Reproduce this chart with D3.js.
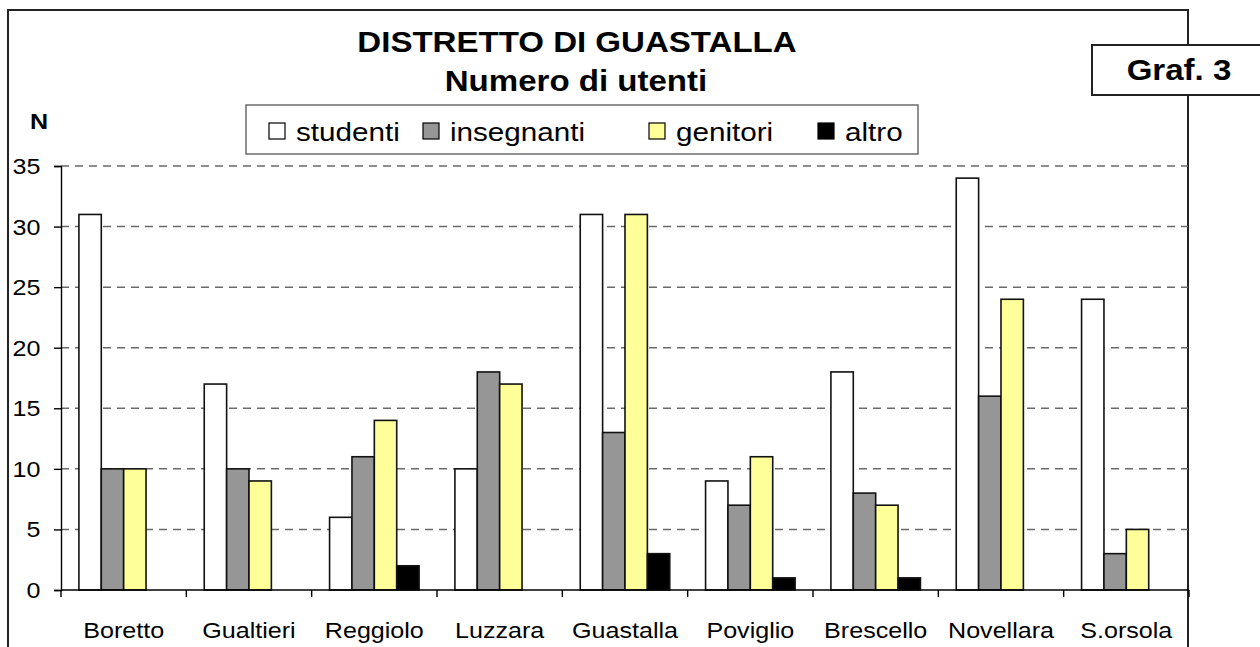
<!DOCTYPE html>
<html>
<head>
<meta charset="utf-8"/>
<script src="https://cdn.jsdelivr.net/npm/d3@7"></script>
<title>Distretto di Guastalla - Graf. 3</title>
<style>
	body { margin: 0; background: #fff; }
	svg { display: block; font-family: Arial, "Liberation Sans", sans-serif; }
</style>
</head>
<body>
<script>
// data
var categories = ["Boretto","Gualtieri","Reggiolo","Luzzara","Guastalla","Poviglio","Brescello","Novellara","S.orsola"];
var series = ["studenti","insegnanti","genitori","altro"];
var studenti   = [31,17, 6,10,31, 9,18,34,24];
var insegnanti = [10,10,11,18,13, 7, 8,16, 3];
var genitori   = [10, 9,14,17,31,11, 7,24, 5];
var altro      = [ 0, 0, 2, 0, 3, 1, 1, 0, 0];
var yTicks = [0,5,10,15,20,25,30,35];
var colors = ["#FFFFFF","#969696","#FFFF99","#000000"];

var values = [studenti, insegnanti, genitori, altro];
var width = 1260, height = 647;
var sx = 1.14; // the original is a bit wider than tall

var svg = d3.select("body").append("svg")
	.attr("width", width)
	.attr("height", height);

// helper: text stretched horizontally around its anchor
function label(x, y, str, size, anchor, bold) {
	svg.append("g")
		.attr("transform", "translate(" + x + "," + y + ") scale(" + sx + ",1)")
		.append("text")
		.attr("text-anchor", anchor)
		.style("font-size", size + "px")
		.style("font-weight", bold ? "bold" : "normal")
		.text(str);
}

// outer frame (bottom edge is cut off)
svg.append("path")
	.attr("d", "M8,660 L8,10 L1188,10 L1188,660")
	.attr("fill", "none")
	.attr("stroke", "#222")
	.attr("stroke-width", 2);

var x0 = d3.scaleBand().domain(categories).range([61, 1189]).padding(0);
var x1 = d3.scaleBand().domain(series).range([0, x0.bandwidth()]).paddingInner(0).paddingOuter(0.8);
var y = d3.scaleLinear().domain([0, 35]).range([590, 166]);

// grid lines
svg.append("g").selectAll("line")
	.data(yTicks.filter(function(d){ return d > 0; }))
	.enter().append("line")
	.attr("x1", 61).attr("x2", 1188)
	.attr("y1", function(d){ return y(d); })
	.attr("y2", function(d){ return y(d); })
	.attr("stroke", "#6a6a6a")
	.attr("stroke-width", 1.5)
	.attr("stroke-dasharray", "8,6");

// bars
var groups = svg.append("g").selectAll("g")
	.data(categories)
	.enter().append("g")
	.attr("transform", function(d){ return "translate(" + x0(d) + ",0)"; });

groups.selectAll("rect")
	.data(function(c, i){ return series.map(function(s, j){ return {s: s, j: j, v: values[j][i]}; }); })
	.enter().filter(function(d){ return d.v > 0; })
	.append("rect")
	.attr("x", function(d){ return x1(d.s); })
	.attr("width", x1.bandwidth())
	.attr("y", function(d){ return y(d.v); })
	.attr("height", function(d){ return y(0) - y(d.v); })
	.attr("fill", function(d){ return colors[d.j]; })
	.attr("stroke", "#111")
	.attr("stroke-width", 1.6);

// y axis
var yAxis = svg.append("g")
	.attr("transform", "translate(61,0)")
	.call(d3.axisLeft(y).tickValues(yTicks).tickSize(7).tickFormat(""));
yAxis.select(".domain").attr("stroke", "#000").attr("stroke-width", 1.4);
yAxis.selectAll(".tick line").attr("stroke", "#000").attr("stroke-width", 1.4);
yTicks.forEach(function(t){ label(40.5, y(t) + 8, t, 22, "end", false); });

// x axis line with ticks at category boundaries
var bounds = categories.map(function(c){ return x0(c); }).concat([x0.range()[1]]);
svg.append("line")
	.attr("x1", 61).attr("x2", 1189)
	.attr("y1", y(0)).attr("y2", y(0))
	.attr("stroke", "#000").attr("stroke-width", 1.6);
svg.append("g").selectAll("line")
	.data(bounds)
	.enter().append("line")
	.attr("x1", function(d){ return d; }).attr("x2", function(d){ return d; })
	.attr("y1", y(0)).attr("y2", y(0) + 7)
	.attr("stroke", "#000").attr("stroke-width", 1.4);
categories.forEach(function(c){ label(x0(c) + x0.bandwidth() / 2, 638, c, 22, "middle", false); });

// titles
label(577, 52, "DISTRETTO DI GUASTALLA", 29, "middle", true);
label(576, 91, "Numero di utenti", 29, "middle", true);
label(39, 129, "N", 22, "middle", true);

// Graf. 3 box
svg.append("rect")
	.attr("x", 1092).attr("y", 45)
	.attr("width", 180).attr("height", 50)
	.attr("fill", "#fff").attr("stroke", "#222").attr("stroke-width", 2);
label(1179, 80, "Graf. 3", 29, "middle", true);

// legend
var legendX = [269, 423, 649, 818];
svg.append("rect")
	.attr("x", 246).attr("y", 105)
	.attr("width", 672).attr("height", 49)
	.attr("fill", "#fff").attr("stroke", "#555").attr("stroke-width", 1.3);
var items = svg.append("g").selectAll("g")
	.data(series)
	.enter().append("g")
	.attr("transform", function(d, i){ return "translate(" + legendX[i] + ",123)"; });
items.append("rect")
	.attr("width", 16).attr("height", 16)
	.attr("fill", function(d, i){ return colors[i]; })
	.attr("stroke", "#000").attr("stroke-width", 1.2);
series.forEach(function(s, i){ label(legendX[i] + 27, 141, s, 26, "start", false); });
</script>
</body>
</html>
